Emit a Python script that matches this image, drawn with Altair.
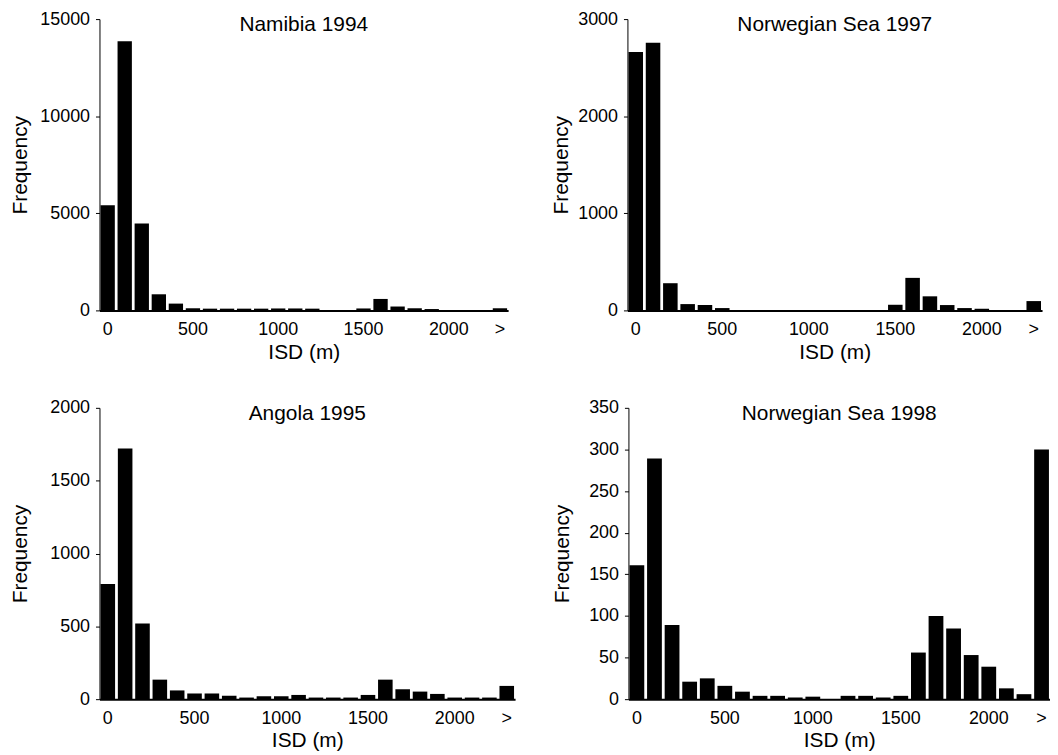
import altair as alt
import pandas as pd

BINS = ["0", "100", "200", "300", "400", "500", "600", "700", "800", "900",
        "1000", "1100", "1200", "1300", "1400", "1500", "1600", "1700", "1800",
        "1900", "2000", "2100", "2200", ">"]
SHOWN = ["0", "500", "1000", "1500", "2000", ">"]

TITLES = ["Namibia 1994", "Norwegian Sea 1997", "Angola 1995", "Norwegian Sea 1998"]

NAMIBIA_1994 = [5420, 13860, 4470, 830, 350, 110, 90, 90, 90, 90, 100, 100,
                90, 0, 0, 100, 590, 200, 110, 70, 0, 0, 0, 110]
NORWEGIAN_1997 = [2660, 2755, 280, 65, 55, 24, 0, 0, 0, 0, 0, 0,
                  0, 0, 0, 58, 335, 145, 55, 24, 17, 0, 0, 96]
ANGOLA_1995 = [791, 1721, 519, 134, 60, 39, 39, 23, 11, 20, 20, 29,
               11, 11, 11, 29, 134, 68, 52, 36, 11, 11, 11, 91]
NORWEGIAN_1998 = [161, 289, 89, 21, 25, 16, 9, 4, 4, 2, 3, 0,
                  4, 4, 2, 4, 56, 100, 85, 53, 39, 13, 6, 300]

Y_MAX = [15000, 3000, 2000, 350]
Y_TICKS = [[0, 5000, 10000, 15000],
           [0, 1000, 2000, 3000],
           [0, 500, 1000, 1500, 2000],
           [0, 50, 100, 150, 200, 250, 300, 350]]

FONT = "Liberation Sans"
LABEL_EXPR = "indexof(" + str(SHOWN).replace("'", "\"") + ", datum.value) >= 0 ? datum.value : ''"


def panel(title, counts, ymax, yticks, width, extent, tpad):
    df = pd.DataFrame({"bin": BINS, "count": counts})
    bars = alt.Chart(df).mark_bar(color="black").encode(
        x=alt.X("bin:N", sort=BINS,
                scale=alt.Scale(paddingInner=0.16, paddingOuter=0.06),
                axis=alt.Axis(title="ISD (m)", labelAngle=0, labelExpr=LABEL_EXPR,
                              ticks=False, tickSize=0, labelPadding=10,
                              domainColor="black", domainWidth=2,
                              labelFontSize=18, titleFontSize=21, titlePadding=3)),
        y=alt.Y("count:Q", scale=alt.Scale(domain=[0, ymax], nice=False),
                axis=alt.Axis(title="Frequency", values=yticks, format="d", grid=False,
                              tickSize=4, tickColor="black", labelPadding=6,
                              domainColor="black", domainWidth=1,
                              labelFontSize=18, titleFontSize=21,
                              minExtent=extent, maxExtent=extent, titlePadding=tpad)),
    )
    txt = alt.Chart(pd.DataFrame({"t": [title]})).mark_text(
        fontSize=21, font=FONT, color="black", align="center", baseline="alphabetic"
    ).encode(text="t:N", x=alt.value(width / 2), y=alt.value(12))
    return alt.layer(bars, txt).properties(width=width, height=293)


p1 = panel(TITLES[0], NAMIBIA_1994, Y_MAX[0], Y_TICKS[0], 411, 59, 10)
p2 = panel(TITLES[1], NORWEGIAN_1997, Y_MAX[1], Y_TICKS[1], 417, 47, 9)
p3 = panel(TITLES[2], ANGOLA_1995, Y_MAX[2], Y_TICKS[2], 418, 59, 10)
p4 = panel(TITLES[3], NORWEGIAN_1998, Y_MAX[3], Y_TICKS[3], 424, 47, 9)

chart = alt.vconcat(
    alt.hconcat(p1, p2, spacing=43),
    alt.hconcat(p3, p4, spacing=37),
    spacing=37,
).properties(
    padding={"left": 2, "top": 0, "right": 0, "bottom": 0}
).configure(
    font=FONT, background="white"
).configure_view(
    strokeWidth=0
).configure_axis(
    labelColor="black", titleColor="black", titleFontWeight="normal", labelFont=FONT, titleFont=FONT
)

chart.save("out.html", embed_options={"renderer": "svg", "actions": False})
